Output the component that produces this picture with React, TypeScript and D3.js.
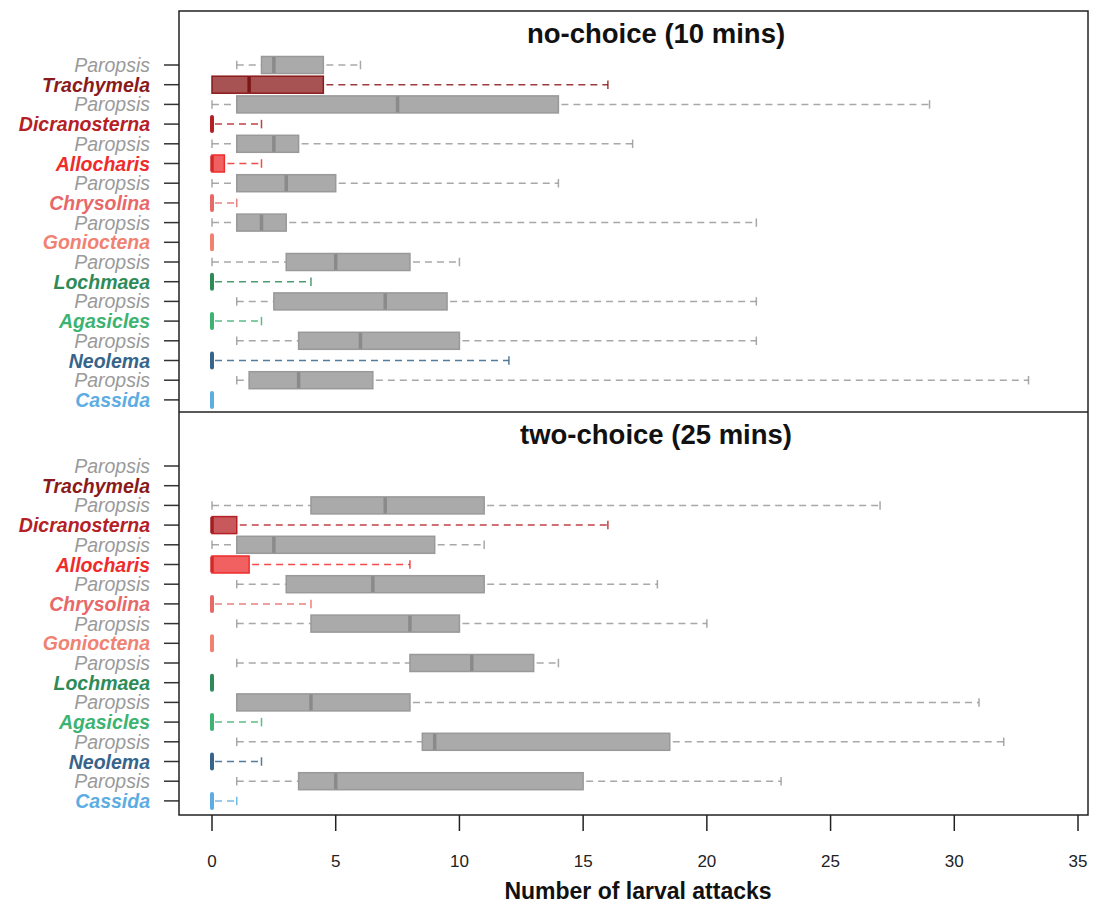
import * as d3 from 'd3';

// taxa, top to bottom; Paropsis rows are the controls paired with the species below them
const taxa = [
  'Paropsis', 'Trachymela', 'Paropsis', 'Dicranosterna', 'Paropsis', 'Allocharis',
  'Paropsis', 'Chrysolina', 'Paropsis', 'Gonioctena', 'Paropsis', 'Lochmaea',
  'Paropsis', 'Agasicles', 'Paropsis', 'Neolema', 'Paropsis', 'Cassida',
];

const taxonColors: Record<string, string> = {
  Paropsis: '#9a9a9a',
  Trachymela: '#8b1a1a',
  Dicranosterna: '#b52025',
  Allocharis: '#ee2c2c',
  Chrysolina: '#e8686a',
  Gonioctena: '#f08272',
  Lochmaea: '#2e8b57',
  Agasicles: '#3cb371',
  Neolema: '#36648b',
  Cassida: '#5dade2',
};

type Stats = [number, number, number, number, number] | null; // lo, q1, median, q3, hi

const noChoiceStats: Stats[] = [
  [1, 2, 2.5, 4.5, 6], [0, 0, 1.5, 4.5, 16], [0, 1, 7.5, 14, 29], [0, 0, 0, 0, 2],
  [0, 1, 2.5, 3.5, 17], [0, 0, 0, 0.5, 2], [0, 1, 3, 5, 14], [0, 0, 0, 0, 1],
  [0, 1, 2, 3, 22], [0, 0, 0, 0, 0], [0, 3, 5, 8, 10], [0, 0, 0, 0, 4],
  [1, 2.5, 7, 9.5, 22], [0, 0, 0, 0, 2], [1, 3.5, 6, 10, 22], [0, 0, 0, 0, 12],
  [1, 1.5, 3.5, 6.5, 33], [0, 0, 0, 0, 0],
];

const twoChoiceStats: Stats[] = [
  null, null, [0, 4, 7, 11, 27], [0, 0, 0, 1, 16],
  [0, 1, 2.5, 9, 11], [0, 0, 0, 1.5, 8], [1, 3, 6.5, 11, 18], [0, 0, 0, 0, 4],
  [1, 4, 8, 10, 20], [0, 0, 0, 0, 0], [1, 8, 10.5, 13, 14], [0, 0, 0, 0, 0],
  [1, 1, 4, 8, 31], [0, 0, 0, 0, 2], [1, 8.5, 9, 18.5, 32], [0, 0, 0, 0, 2],
  [1, 3.5, 5, 15, 23], [0, 0, 0, 0, 1],
];

const panelTitles = ['no-choice (10 mins)', 'two-choice (25 mins)'];
const xTicks = [0, 5, 10, 15, 20, 25, 30, 35];

const W = 1094;
const H = 903;
const frame = { left: 179, right: 1088, top: 11, mid: 412, bottom: 815 };
const FONT = "'Liberation Sans', Arial, sans-serif";

const x = d3.scaleLinear().domain([0, 35]).range([212, 1078]);

function Panel({ top, title, stats }: { top: number; title: string; stats: Stats[] }) {
  const y = d3.scaleLinear().domain([0, 17]).range([top + 54, top + 54 + 17 * 19.7]);
  const boxH = 17;

  return (
    <g>
      <text x={656} y={top + 32} textAnchor="middle" fontSize={27.5} fontWeight="bold" fill="#111">
        {title}
      </text>

      {/* y ticks + labels */}
      {taxa.map((t, i) => (
        <g key={`lab${i}`}>
          <line x1={frame.left - 15} x2={frame.left} y1={y(i)} y2={y(i)} stroke="#333" strokeWidth={1.5} />
          <text
            x={150}
            y={y(i)}
            dy="0.36em"
            textAnchor="end"
            fontSize={19.5}
            fontStyle="italic"
            fontWeight={t === 'Paropsis' ? 'normal' : 'bold'}
            fill={taxonColors[t]}
          >
            {t}
          </text>
        </g>
      ))}

      {/* boxes */}
      {stats.map((s, i) => {
        if (!s) return null;
        const [lo, q1, med, q3, hi] = s;
        const c = taxonColors[taxa[i]];
        const isCtrl = taxa[i] === 'Paropsis';
        const cy = y(i);
        const fill = isCtrl ? '#aaaaaa' : c;
        const border = isCtrl ? '#999999' : c;
        const medCol = isCtrl ? '#8a8a8a' : d3.color(c)!.darker(0.3).toString();
        const whisk = isCtrl ? '#999999' : c;
        const staple = boxH / 4;
        return (
          <g key={`box${i}`}>
            {lo < q1 && (
              <g>
                <line x1={x(lo)} x2={x(q1)} y1={cy} y2={cy} stroke={whisk} strokeWidth={1.5} strokeDasharray="7,5" strokeOpacity={0.85} />
                <line x1={x(lo)} x2={x(lo)} y1={cy - staple} y2={cy + staple} stroke={whisk} strokeWidth={1.5} strokeOpacity={0.85} />
              </g>
            )}
            {hi > q3 && (
              <g>
                <line x1={x(q3) + 3} x2={x(hi)} y1={cy} y2={cy} stroke={whisk} strokeWidth={1.5} strokeDasharray="7,5" strokeOpacity={0.85} />
                <line x1={x(hi)} x2={x(hi)} y1={cy - staple} y2={cy + staple} stroke={whisk} strokeWidth={1.5} strokeOpacity={0.85} />
              </g>
            )}
            {q3 > q1 && (
              <rect
                x={x(q1)}
                y={cy - boxH / 2}
                width={x(q3) - x(q1)}
                height={boxH}
                fill={fill}
                fillOpacity={isCtrl ? 1 : 0.75}
                stroke={border}
                strokeWidth={1.5}
              />
            )}
            <line
              x1={x(med)}
              x2={x(med)}
              y1={cy - boxH / 2 + (q3 > q1 ? 0.5 : 1.5)}
              y2={cy + boxH / 2 - (q3 > q1 ? 0.5 : 1.5)}
              stroke={q3 > q1 ? medCol : c}
              strokeWidth={q3 > q1 ? 3.5 : 4}
              strokeLinecap={q3 > q1 ? 'butt' : 'round'}
            />
          </g>
        );
      })}
    </g>
  );
}

export default function App() {
  return (
    <svg width={W} height={H} style={{ display: 'block', position: 'absolute', left: 0, top: 0 }} fontFamily={FONT}>
      <rect width={W} height={H} fill="#fff" />
      <Panel top={frame.top} title={panelTitles[0]} stats={noChoiceStats} />
      <Panel top={frame.mid} title={panelTitles[1]} stats={twoChoiceStats} />

      {/* frame + divider */}
      <rect
        x={frame.left}
        y={frame.top}
        width={frame.right - frame.left}
        height={frame.bottom - frame.top}
        fill="none"
        stroke="#222"
        strokeWidth={1.5}
      />
      <line x1={frame.left} x2={frame.right} y1={frame.mid} y2={frame.mid} stroke="#222" strokeWidth={1.5} />

      {/* x axis */}
      {xTicks.map((t) => (
        <g key={t}>
          <line x1={x(t)} x2={x(t)} y1={frame.bottom} y2={frame.bottom + 16} stroke="#222" strokeWidth={1.5} />
          <text x={x(t)} y={867} textAnchor="middle" fontSize={17} fill="#222">
            {t}
          </text>
        </g>
      ))}
      <text x={638} y={899} textAnchor="middle" fontSize={23} fontWeight="bold" fill="#111">
        Number of larval attacks
      </text>
    </svg>
  );
}
